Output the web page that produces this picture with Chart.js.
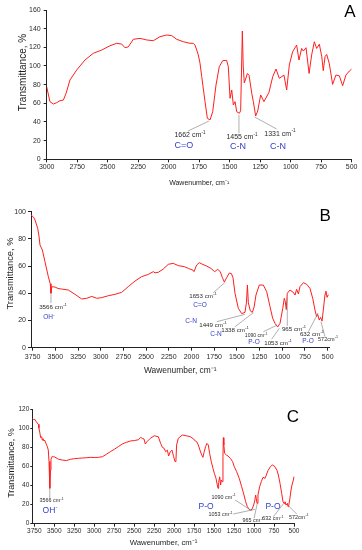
<!DOCTYPE html>
<html><head><meta charset="utf-8">
<script src="https://cdn.jsdelivr.net/npm/chart.js@4.4.1/dist/chart.umd.min.js"></script>
<style>
html,body{margin:0;padding:0;background:#fff;width:362px;height:550px;overflow:hidden;position:relative}
canvas{position:absolute;left:0}
</style></head><body>
<canvas id="cA" width="362" height="190" style="top:0px;width:362px;height:190px"></canvas>
<canvas id="cB" width="362" height="187" style="top:190px;width:362px;height:187px"></canvas>
<canvas id="cC" width="362" height="173" style="top:377px;width:362px;height:173px"></canvas>
<script>
// ---------- Data: panel A ----------
const WN_A = [3000,2973,2945,2918,2891,2863,2841,2809,2754,2686,2618,2549,2481,2426,2385,2358,2331,2290,2235,2180,2126,2071,2016,1975,1934,1880,1825,1798,1784,1770,1757,1743,1729,1702,1683,1661,1639,1612,1585,1557,1525,1511,1497,1483,1470,1456,1442,1421,1410,1396,1389,1380,1369,1355,1341,1319,1306,1287,1270,1246,1219,1178,1147,1120,1093,1055,1033,1011,984,951,932,910,896,874,849,828,806,787,765,745,733,718,705,684,656,629,601,574,547,519,500];
const T_A  = [77.8,61.8,59.3,60.7,62.8,63.5,70.7,85,95.7,106.4,113.6,117.1,121.7,124.3,123.5,119.6,120.5,128.6,129.6,127.9,127.1,131.4,133.2,132.5,128.6,126,124.3,124.3,122.4,117.1,111.8,102.9,88.6,61.8,44,42.2,51,79.6,99.3,105.7,106,99.3,65.4,74.3,58.2,61.8,51,49.3,52,137.5,100,82,86,92,90,70.7,61.8,46.4,51.8,69,61.8,71.8,88.6,96.8,86.8,90.3,74.3,101,115.3,122.4,106.4,118.8,116,119.6,92,111.8,126,118.8,123.4,110,95,110,112.4,102.9,80.3,90.3,89.5,78.9,90.3,94.6,96.8];

// ---------- Data: panel B ----------
const WN_B = [3768,3740,3724,3694,3680,3669,3643,3614,3577,3556,3548,3540,3504,3470,3430,3357,3283,3210,3154,3099,3044,2989,2916,2843,2769,2696,2622,2549,2476,2421,2402,2366,2311,2256,2201,2145,2079,2035,1984,1973,1943,1914,1885,1833,1786,1745,1712,1683,1660,1638,1613,1584,1561,1543,1521,1484,1447,1411,1395,1384,1374,1352,1330,1310,1290,1253,1209,1172,1135,1106,1080,1051,1025,995,978,967,956,945,915,879,860,842,823,805,768,731,695,665,640,622,611,593,578,562,548,530,519,507,493];
const T_B  = [97.5,96,93.9,87.7,82,75.5,71.8,63.2,52.2,47,40,44.8,44.6,43.5,43.1,42.4,39.2,35.8,36.3,37.7,36.3,36.8,38.2,39.2,40.7,44.9,49,52.2,53.9,55.9,55,55.4,57.8,61.3,62,60.3,59.6,58.3,57,55.9,60.8,62.5,61.5,60,58.3,55.9,57.6,55.9,51.5,48.2,51.5,54.9,54.5,51.5,40,28.9,25,26,33,46.1,33,27,26,30,38.7,46.1,46,41.2,30.1,21.6,17.9,15.2,17.9,28.9,36.3,33.8,28,40,42.4,40.7,38.7,42.9,39.5,44.9,47.8,46.6,43.6,36.3,27.7,22.8,24.7,20.3,22.3,19.5,27.7,38.7,41.5,37,39];

// ---------- Data: panel C ----------
const WN_C = [3775,3758,3742,3725,3700,3692,3679,3671,3658,3650,3642,3629,3621,3604,3587,3575,3566,3556,3548,3541,3525,3508,3495,3450,3400,3349,3300,3249,3199,3149,3099,3049,2999,2949,2899,2849,2799,2749,2699,2649,2599,2548,2498,2448,2419,2398,2377,2361,2340,2298,2248,2198,2169,2148,2127,2106,2085,2069,2048,2027,2006,1989,1977,1969,1948,1898,1848,1798,1756,1735,1718,1697,1677,1656,1639,1627,1606,1590,1572,1556,1535,1514,1497,1476,1460,1451,1443,1430,1418,1410,1397,1389,1384,1378,1368,1347,1326,1297,1268,1247,1218,1185,1155,1126,1105,1084,1063,1047,1026,1005,989,980,972,963,951,930,909,888,863,846,826,796,771,746,713,696,675,654,638,625,613,600,583,575,567,554,537,525,508,500];
const T_C  = [110,109,109,106.7,104,100,94.5,90,91,87.5,89,86.5,87.5,84,80.6,77,65,37,56,67.3,70.5,70,69.8,67.5,66.6,66,67.3,68,68.4,68.7,69,69.4,69.2,69.4,70,72.5,75.3,77.8,80.6,83.4,85.1,86.5,87,87.8,90.3,89.3,88.6,83.4,85.8,89.3,92,91,84,80,79,75.3,77,70.8,75.3,77,70,65,67.3,82.3,89.3,92.8,92,91,88.6,86.5,85.8,82.3,77,72,69.4,74.3,80.6,84,82.3,73.6,64.9,57.9,52.7,47.4,40.5,37,42.9,49,40.5,45.7,44,70,90,82.3,73.6,71.9,70.8,68.4,64.9,59.6,54.4,47.4,38.7,30,23,17.8,15,14.3,15,19.5,24.8,30,26.5,21.3,30,38.7,44,48.5,47.4,50.9,55.5,59.6,61.4,60.3,56,50.9,42.2,31.7,23,21.3,23,19.5,21.3,17.8,18.5,24.8,35.2,40.5,45.7,49.2];

// ---------- Tick labels ----------
const X_TICKS_A = [3000,2750,2500,2250,2000,1750,1500,1250,1000,750,500];
const X_TICKS_BC = [3750,3500,3250,3000,2750,2500,2250,2000,1750,1500,1250,1000,750,500];
const Y_TICKS_A = [0,20,40,60,80,100,120,140,160];
const Y_TICKS_B = [0,20,40,60,80,100];
const Y_TICKS_C = [0,20,40,60,80,100,120];

const F = "'Liberation Sans', Arial, sans-serif";
const BLUE = '#3340c8';
const TXT = '#2a2a2a';

// ---------- Annotations (in data coordinates) ----------
const LINES_A = [[1670,41,1842,30.3],[1424,47.5,1424,28.2],[1295,45.3,1115,32.5]];
const LABELS_A = [
  {x:1825,y:26,t:'1662 cm',s:'-1',size:7},
  {x:1875,y:15.3,t:'C=O',size:9,c:BLUE},
  {x:1399,y:23.9,t:'1455 cm',s:'-1',size:7},
  {x:1432,y:13.2,t:'C-N',size:9,c:BLUE},
  {x:1088,y:27.6,t:'1331 cm',s:'-1',size:7},
  {x:1104,y:13.2,t:'C-N',size:9,c:BLUE},
  {x:514,y:157.9,t:'A',size:17,c:'#000'}
];
const LINES_B = [[3548,40,3548,32.8],[1634,47.8,1760,40.4],[1411,24.5,1722,19.1],[1319,25.7,1521,15.4],[1069,16.2,1209,11.7],[1033,14.2,1117,6.2],[945,37,945,16],[606,25.5,713,11.7],[574,19.1,530,8.1]];
const LABELS_B = [
  {x:3526,y:29.9,t:'3566 cm',s:'-1',size:6.2},
  {x:3570,y:22.6,t:'OH',s:'-',size:6.5,c:BLUE},
  {x:1873,y:38,t:'1653 cm',s:'-1',size:6.2},
  {x:1906,y:30.9,t:'C=O',size:6.5,c:BLUE},
  {x:2005,y:19.4,t:'C-N',size:6.5,c:BLUE},
  {x:1763,y:16.7,t:'1449 cm',s:'-1',size:6.2},
  {x:1521,y:13.0,t:'1338 cm',s:'-1',size:6.2},
  {x:1730,y:9.8,t:'C-N',size:6.5,c:BLUE},
  {x:1289,y:8.8,t:'1090 cm',s:'-1',size:5},
  {x:1311,y:3.9,t:'P-O',size:6.5,c:BLUE},
  {x:1047,y:3.2,t:'1053 cm',s:'-1',size:6.2},
  {x:871,y:13.5,t:'965 cm',s:'-1',size:6.2},
  {x:673,y:10,t:'632 cm',s:'-1',size:6.2},
  {x:717,y:5.1,t:'P-O',size:6.5,c:BLUE},
  {x:496,y:6.2,t:'572cm',s:'-1',size:5.5},
  {x:529,y:96.8,t:'B',size:17,c:'#000'}
];
const LINES_C = [[3556,37,3556,26.5],[1238,24.8,1029,13.6],[1260,10.1,988,15.0],[959,21.3,1000,5.6],[628,21.3,758,7.3],[566,18.5,466,10.1]];
const LABELS_C = [
  {x:3533,y:24,t:'3566 cm',s:'-1',size:5.4},
  {x:3554,y:13.6,t:'OH',s:'-',size:8.5,c:BLUE},
  {x:1382,y:27.6,t:'1090 cm',s:'-1',size:5.4},
  {x:1601,y:17.8,t:'P-O',size:8.5,c:BLUE},
  {x:1420,y:9.1,t:'1053 cm',s:'-1',size:5.4},
  {x:1013,y:3.1,t:'965 cm',s:'-1',size:5.4},
  {x:765,y:4.9,t:'632 cm',s:'-1',size:5.4},
  {x:763,y:17.8,t:'P-O',size:8.5,c:BLUE},
  {x:441,y:6.7,t:'572cm',s:'-1',size:5.4},
  {x:512.6,y:111,t:'C',size:17,c:'#000'}
];

function drawLabel(ctx, px, py, L) {
  const size = L.size, ss = size * 0.65;
  ctx.fillStyle = L.c || TXT;
  ctx.textBaseline = 'middle';
  ctx.textAlign = 'left';
  ctx.font = size + 'px ' + F;
  const w1 = ctx.measureText(L.t).width;
  let w2 = 0;
  if (L.s) { ctx.font = ss + 'px ' + F; w2 = ctx.measureText(L.s).width + 0.3; }
  const x0 = px - (w1 + w2) / 2;
  ctx.font = size + 'px ' + F;
  ctx.fillText(L.t, x0, py);
  if (L.s) { ctx.font = ss + 'px ' + F; ctx.fillText(L.s, x0 + w1 + 0.3, py - size * 0.38); }
}

function annoPlugin(lines, labels, yt) {
  return {
    id: 'anno',
    afterDraw(chart) {
      const ctx = chart.ctx, xs = chart.scales.x, ys = chart.scales.y;
      ctx.save();
      ctx.strokeStyle = '#8c8c8c';
      ctx.lineWidth = 0.7;
      for (const [x1, y1, x2, y2] of lines) {
        ctx.beginPath();
        ctx.moveTo(xs.getPixelForValue(x1), ys.getPixelForValue(y1));
        ctx.lineTo(xs.getPixelForValue(x2), ys.getPixelForValue(y2));
        ctx.stroke();
      }
      for (const L of labels) drawLabel(ctx, xs.getPixelForValue(L.x), ys.getPixelForValue(L.y), L);
      ctx.translate(yt.px, ys.getPixelForValue(yt.v));
      ctx.rotate(-Math.PI / 2);
      ctx.font = yt.size + 'px ' + F;
      ctx.fillStyle = '#1e1e1e';
      ctx.textAlign = 'center';
      ctx.textBaseline = 'middle';
      ctx.fillText('Transmittance, %', 0, 0);
      ctx.restore();
    }
  };
}

function makeChart(id, o) {
  const pts = o.wn.map((x, i) => ({x: x, y: o.t[i]}));
  return new Chart(document.getElementById(id), {
    type: 'line',
    data: {datasets: [{data: pts, borderColor: 'rgb(255,30,30)', borderWidth: 1, pointRadius: 0, tension: 0, fill: false}]},
    options: {
      responsive: false, animation: false, events: [],
      layout: {padding: {top: o.padTop, right: o.padRight, left: 0, bottom: 0}},
      plugins: {legend: {display: false}, tooltip: {enabled: false}},
      scales: {
        x: {
          type: 'linear', min: o.xmin, max: o.xmax, reverse: true,
          afterBuildTicks(s) { s.ticks = o.xticks.map(v => ({value: v})); },
          afterFit(s) { s.height = o.xH; },
          ticks: {autoSkip: false, maxRotation: 0, minRotation: 0,
                  color: TXT, font: {family: F, size: o.tick}, padding: o.xTickPad,
                  callback: v => String(v)},
          grid: {drawOnChartArea: false, drawTicks: true, tickLength: 3, color: '#222', lineWidth: 1},
          border: {display: true, color: '#222', width: 1},
          title: {display: true, text: 'Wawenumber, cm⁻¹', color: '#1e1e1e', font: {family: F, size: o.xTitle}, padding: {top: 0, bottom: o.xTitlePad}}
        },
        y: {
          type: 'linear', min: 0, max: o.ymax,
          afterBuildTicks(s) { s.ticks = o.yticks.map(v => ({value: v})); },
          afterFit(s) { s.width = o.yW; },
          ticks: {autoSkip: false, color: TXT, font: {family: F, size: o.tick}, padding: o.yTickPad,
                  callback: v => String(v)},
          grid: {drawOnChartArea: false, drawTicks: true, tickLength: o.yTickLen, color: '#222', lineWidth: 1},
          border: {display: true, color: '#222', width: 1}
        }
      }
    },
    plugins: [annoPlugin(o.lines, o.labels, o.yt)]
  });
}

makeChart('cA', {wn: WN_A, t: T_A, xmin: 500, xmax: 3000, ymax: 160, xticks: X_TICKS_A, yticks: Y_TICKS_A,
  padTop: 10, padRight: 10.33, xH: 30.67, yW: 46.67, tick: 7, xTickPad: 0.5, yTickPad: 3, yTickLen: 3,
  xTitle: 7, xTitlePad: 2.8, lines: LINES_A, labels: LABELS_A, yt: {px: 23, v: 93, size: 10}});

makeChart('cB', {wn: WN_B, t: T_B, xmin: 480, xmax: 3768, ymax: 100, xticks: X_TICKS_BC, yticks: Y_TICKS_B,
  padTop: 21.67, padRight: 32.5, xH: 29.33, yW: 31, tick: 7, xTickPad: 2.5, yTickPad: 2, yTickLen: 3,
  xTitle: 8.4, xTitlePad: 1, lines: LINES_B, labels: LABELS_B, yt: {px: 10, v: 54.5, size: 9.3}});

makeChart('cC', {wn: WN_C, t: T_C, xmin: 490, xmax: 3775, ymax: 120, xticks: X_TICKS_BC, yticks: Y_TICKS_C,
  padTop: 32, padRight: 67.2, xH: 26.33, yW: 32.3, tick: 6.5, xTickPad: 0.8, yTickPad: 1, yTickLen: 2,
  xTitle: 7.8, xTitlePad: 2.3, lines: LINES_C, labels: LABELS_C, yt: {px: 11.7, v: 63.5, size: 9}});
</script>
</body></html>
